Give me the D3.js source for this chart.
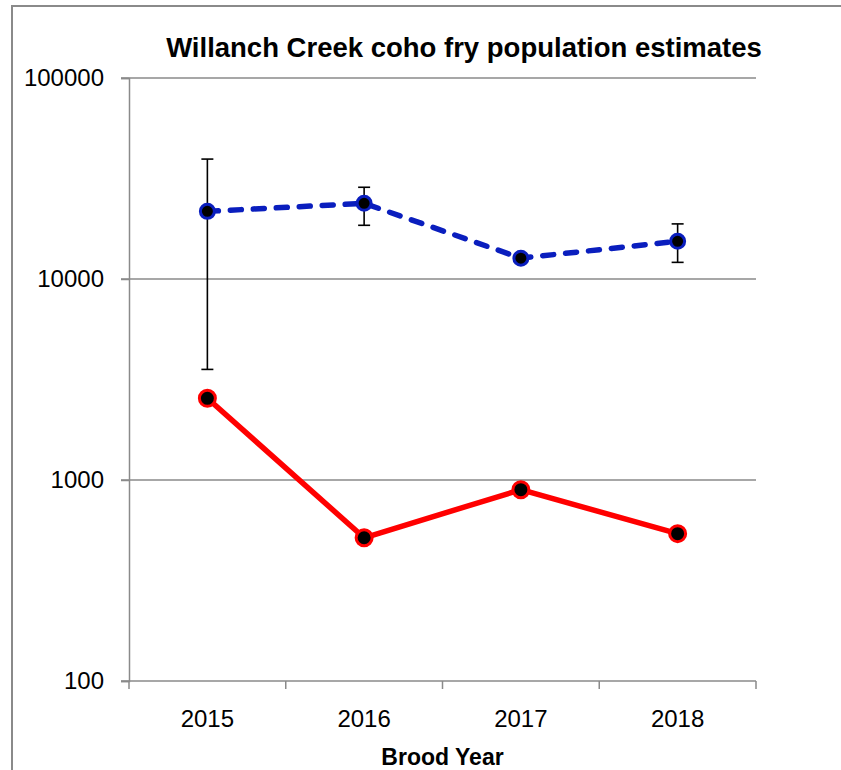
<!DOCTYPE html>
<html>
<head>
<meta charset="utf-8">
<script src="https://cdn.jsdelivr.net/npm/d3@7"></script>
<style>
  html, body { margin: 0; padding: 0; background: #fff; }
  svg { display: block; }
  text { font-family: "Liberation Sans", Arial, sans-serif; fill: #000; }
</style>
</head>
<body>
<svg id="chart" width="841" height="770"></svg>
<script>
// Brood years on the x axis
const years = ["2015", "2016", "2017", "2018"];
// Population estimate (dashed blue) with 95% bounds
const estimate = [21700, 23800, 12700, 15400];
const estimateLow = [3550, 18500, null, 12100];
const estimateHigh = [39500, 28600, null, 18800];
// Minimum count (solid red)
const minCount = [2550, 516, 895, 541];
// Log axis tick labels
const yTicks = [100, 1000, 10000, 100000];

const svg = d3.select("#chart");
const margin = { left: 129, right: 756, top: 78, bottom: 681 };
const grey = "#8a8a8a";

// Outer chart frame
svg.append("rect")
  .attr("x", 12).attr("y", 6)
  .attr("width", 900).attr("height", 900)
  .attr("fill", "none").attr("stroke", grey).attr("stroke-width", 2);

const x = d3.scaleBand().domain(years).range([margin.left, margin.right]).padding(0);
const y = d3.scaleLog().domain([100, 100000]).range([margin.bottom, margin.top]);
const cx = d => x(d) + x.bandwidth() / 2;

// Horizontal gridlines
svg.append("g").selectAll("line").data(yTicks.slice(1)).join("line")
  .attr("x1", margin.left - 8).attr("x2", margin.right)
  .attr("y1", d => y(d)).attr("y2", d => y(d))
  .attr("stroke", grey).attr("stroke-width", 1.5);

// Y axis
const yAxis = svg.append("g")
  .attr("transform", `translate(${margin.left},0)`)
  .call(d3.axisLeft(y).tickValues(yTicks).tickFormat(d3.format("d")).tickSize(8).tickPadding(17));
yAxis.select(".domain").attr("stroke", grey).attr("stroke-width", 1.5);
yAxis.selectAll(".tick line").attr("stroke", grey).attr("stroke-width", 1.5);
yAxis.selectAll(".tick text").attr("font-size", 24).attr("font-family", "Liberation Sans, Arial, sans-serif");

// X axis: ticks on category boundaries, labels centred in bands
const xAxisG = svg.append("g").attr("transform", `translate(0,${margin.bottom})`);
xAxisG.append("line")
  .attr("x1", margin.left - 8).attr("x2", margin.right)
  .attr("y1", 0).attr("y2", 0)
  .attr("stroke", grey).attr("stroke-width", 1.5);
const bounds = years.map(d => x(d)).concat([x(years[years.length - 1]) + x.bandwidth()]);
xAxisG.selectAll("line.tk").data(bounds).join("line").attr("class", "tk")
  .attr("x1", d => d).attr("x2", d => d).attr("y1", 0).attr("y2", 8)
  .attr("stroke", grey).attr("stroke-width", 1.5);
xAxisG.selectAll("text").data(years).join("text")
  .attr("x", d => cx(d)).attr("y", 46)
  .attr("text-anchor", "middle").attr("font-size", 24)
  .text(d => d);

// Axis title
svg.append("text")
  .attr("x", cx(years[0]) / 2 + cx(years[3]) / 2).attr("y", 765)
  .attr("text-anchor", "middle").attr("font-size", 23).attr("font-weight", "bold")
  .text("Brood Year");

// Chart title
svg.append("text")
  .attr("x", 464).attr("y", 57)
  .attr("text-anchor", "middle").attr("font-size", 27.5).attr("font-weight", "bold")
  .text("Willanch Creek coho fry population estimates");

// Red series
const redLine = d3.line().x((d, i) => cx(years[i])).y(d => y(d));
svg.append("path").datum(minCount)
  .attr("d", redLine).attr("fill", "none")
  .attr("stroke", "#ff0000").attr("stroke-width", 5.5).attr("stroke-linejoin", "round");
svg.append("g").selectAll("circle").data(minCount).join("circle")
  .attr("cx", (d, i) => cx(years[i])).attr("cy", d => y(d)).attr("r", 8)
  .attr("fill", "#000").attr("stroke", "#ff0000").attr("stroke-width", 3);

// Blue series with error bars
const blueLine = d3.line().x((d, i) => cx(years[i])).y(d => y(d));
svg.append("path").datum(estimate)
  .attr("d", blueLine).attr("fill", "none")
  .attr("stroke", "#0a1ebe").attr("stroke-width", 5.5)
  .attr("stroke-dasharray", "11,12").attr("stroke-linecap", "round");

const errData = years.map((yr, i) => ({ yr, lo: estimateLow[i], hi: estimateHigh[i] }))
  .filter(d => d.lo != null);
const eg = svg.append("g").attr("stroke", "#000").attr("stroke-width", 1.6);
eg.selectAll("line.v").data(errData).join("line").attr("class", "v")
  .attr("x1", d => cx(d.yr)).attr("x2", d => cx(d.yr))
  .attr("y1", d => y(d.lo)).attr("y2", d => y(d.hi));
eg.selectAll("line.t").data(errData).join("line").attr("class", "t")
  .attr("x1", d => cx(d.yr) - 6).attr("x2", d => cx(d.yr) + 6)
  .attr("y1", d => y(d.hi)).attr("y2", d => y(d.hi));
eg.selectAll("line.b").data(errData).join("line").attr("class", "b")
  .attr("x1", d => cx(d.yr) - 6).attr("x2", d => cx(d.yr) + 6)
  .attr("y1", d => y(d.lo)).attr("y2", d => y(d.lo));

svg.append("g").selectAll("circle").data(estimate).join("circle")
  .attr("cx", (d, i) => cx(years[i])).attr("cy", d => y(d)).attr("r", 7)
  .attr("fill", "#000").attr("stroke", "#0a1ebe").attr("stroke-width", 3);
</script>
</body>
</html>
